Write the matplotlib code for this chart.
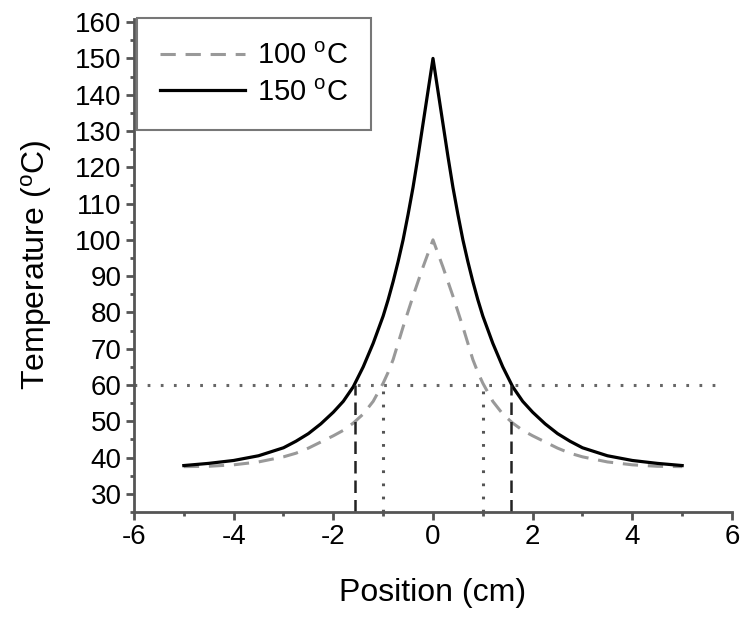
import matplotlib
matplotlib.use("Agg")
from matplotlib import pyplot as plt
from matplotlib.ticker import MultipleLocator

plt.rcParams['font.family'] = ['Liberation Sans', 'DejaVu Sans']
plt.rcParams['mathtext.default'] = 'regular'
plt.rcParams['axes.unicode_minus'] = False

# temperature profiles (symmetric about x = 0)
pos_150 = [-5.0, -4.5, -4.0, -3.5, -3.0, -2.75, -2.5, -2.25, -2.0, -1.8, -1.6, -1.4, -1.2, -1.0, -0.9, -0.8,
           -0.7, -0.6, -0.5, -0.4, -0.3, -0.2, -0.15, -0.1, -0.05, 0.0,
           0.05, 0.1, 0.15, 0.2, 0.3, 0.4, 0.5, 0.6, 0.7, 0.8, 0.9, 1.0, 1.2, 1.4, 1.6, 1.8, 2.0, 2.25,
           2.5, 2.75, 3.0, 3.5, 4.0, 4.5, 5.0]
temp_150 = [37.8, 38.4, 39.2, 40.5, 42.7, 44.5, 46.6, 49.3, 52.5, 55.5, 59.5, 65.0, 71.5, 79.0, 83.5, 88.5,
            94.0, 100.0, 107.0, 114.5, 123.0, 132.0, 136.5, 141.0, 145.5, 150.0,
            145.5, 141.0, 136.5, 132.0, 123.0, 114.5, 107.0, 100.0, 94.0, 88.5, 83.5, 79.0, 71.5, 65.0, 59.5, 55.5, 52.5, 49.3,
            46.6, 44.5, 42.7, 40.5, 39.2, 38.4, 37.8]

pos_100 = [-5.0, -4.5, -4.0, -3.5, -3.0, -2.75, -2.5, -2.25, -2.0, -1.8, -1.6, -1.4, -1.2, -1.0, -0.9, -0.8,
           -0.6, -0.4, -0.2, 0.0,
           0.2, 0.4, 0.6, 0.8, 0.9, 1.0, 1.2, 1.4, 1.6, 1.8, 2.0, 2.25, 2.5, 2.75, 3.0, 3.5, 4.0, 4.5, 5.0]
temp_100 = [37.5, 37.6, 38.0, 38.8, 40.2, 41.2, 42.6, 44.3, 46.0, 47.5, 49.5, 52.0, 55.5, 60.5, 63.5, 67.0,
            76.0, 84.5, 92.5, 100.0,
            92.5, 84.5, 76.0, 67.0, 63.5, 60.5, 55.5, 52.0, 49.5, 47.5, 46.0, 44.3, 42.6, 41.2, 40.2, 38.8, 38.0, 37.6, 37.5]

t_ref = 60          # horizontal reference temperature
x_cross_150 = 1.57  # where the 150 C curve crosses 60 C
x_cross_100 = 1.0   # where the 100 C curve crosses 60 C

fig = plt.figure(figsize=(7.51, 6.25), dpi=100)
ax = fig.add_axes([0.1784, 0.1808, 0.7963, 0.7896])

ax.plot(pos_100, temp_100, color='#999999', lw=2.2, ls=(0, (5, 3.2)), label='100 $^o$C')
ax.plot(pos_150, temp_150, color='black', lw=2.3, label='150 $^o$C')

ax.plot([-6, 5.65], [t_ref, t_ref], color='#666666', lw=2.2, ls=(0, (0.9, 3.4)))
for xc in (-x_cross_100, x_cross_100):
    ax.plot([xc, xc], [25, t_ref], color='#555555', lw=2.2, ls=(0, (0.9, 3.4)))
for xc in (-x_cross_150, x_cross_150):
    ax.plot([xc, xc], [25, t_ref], color='#222222', lw=1.8, ls=(0, (5, 2.8)))

ax.set_xlim(-6, 6)
ax.set_ylim(25, 161)
ax.xaxis.set_major_locator(MultipleLocator(2))
ax.xaxis.set_minor_locator(MultipleLocator(1))
ax.yaxis.set_minor_locator(MultipleLocator(5))
ax.set_yticks(range(30, 161, 10))

for s in ('top', 'right'):
    ax.spines[s].set_visible(False)
for s in ('left', 'bottom'):
    ax.spines[s].set_linewidth(2)
    ax.spines[s].set_color('#555555')

ax.tick_params(axis='both', which='major', direction='out', length=6, width=2,
               color='#555555', labelsize=20, pad=3)
ax.tick_params(axis='both', which='minor', direction='out', length=3, width=2, color='#555555')

ax.set_xlabel('Position (cm)', fontsize=23, labelpad=20)
ax.set_ylabel('Temperature ($^o$C)', fontsize=23, labelpad=15)

leg = ax.legend(loc='upper left', bbox_to_anchor=(0.005, 1.0), borderaxespad=0,
                fontsize=21, handlelength=2.9, handletextpad=0.4, fancybox=False, framealpha=1,
                edgecolor='#777777', borderpad=0.8, labelspacing=0.3)
leg.get_frame().set_linewidth(1.5)

fig.savefig('out.png', dpi=100)
